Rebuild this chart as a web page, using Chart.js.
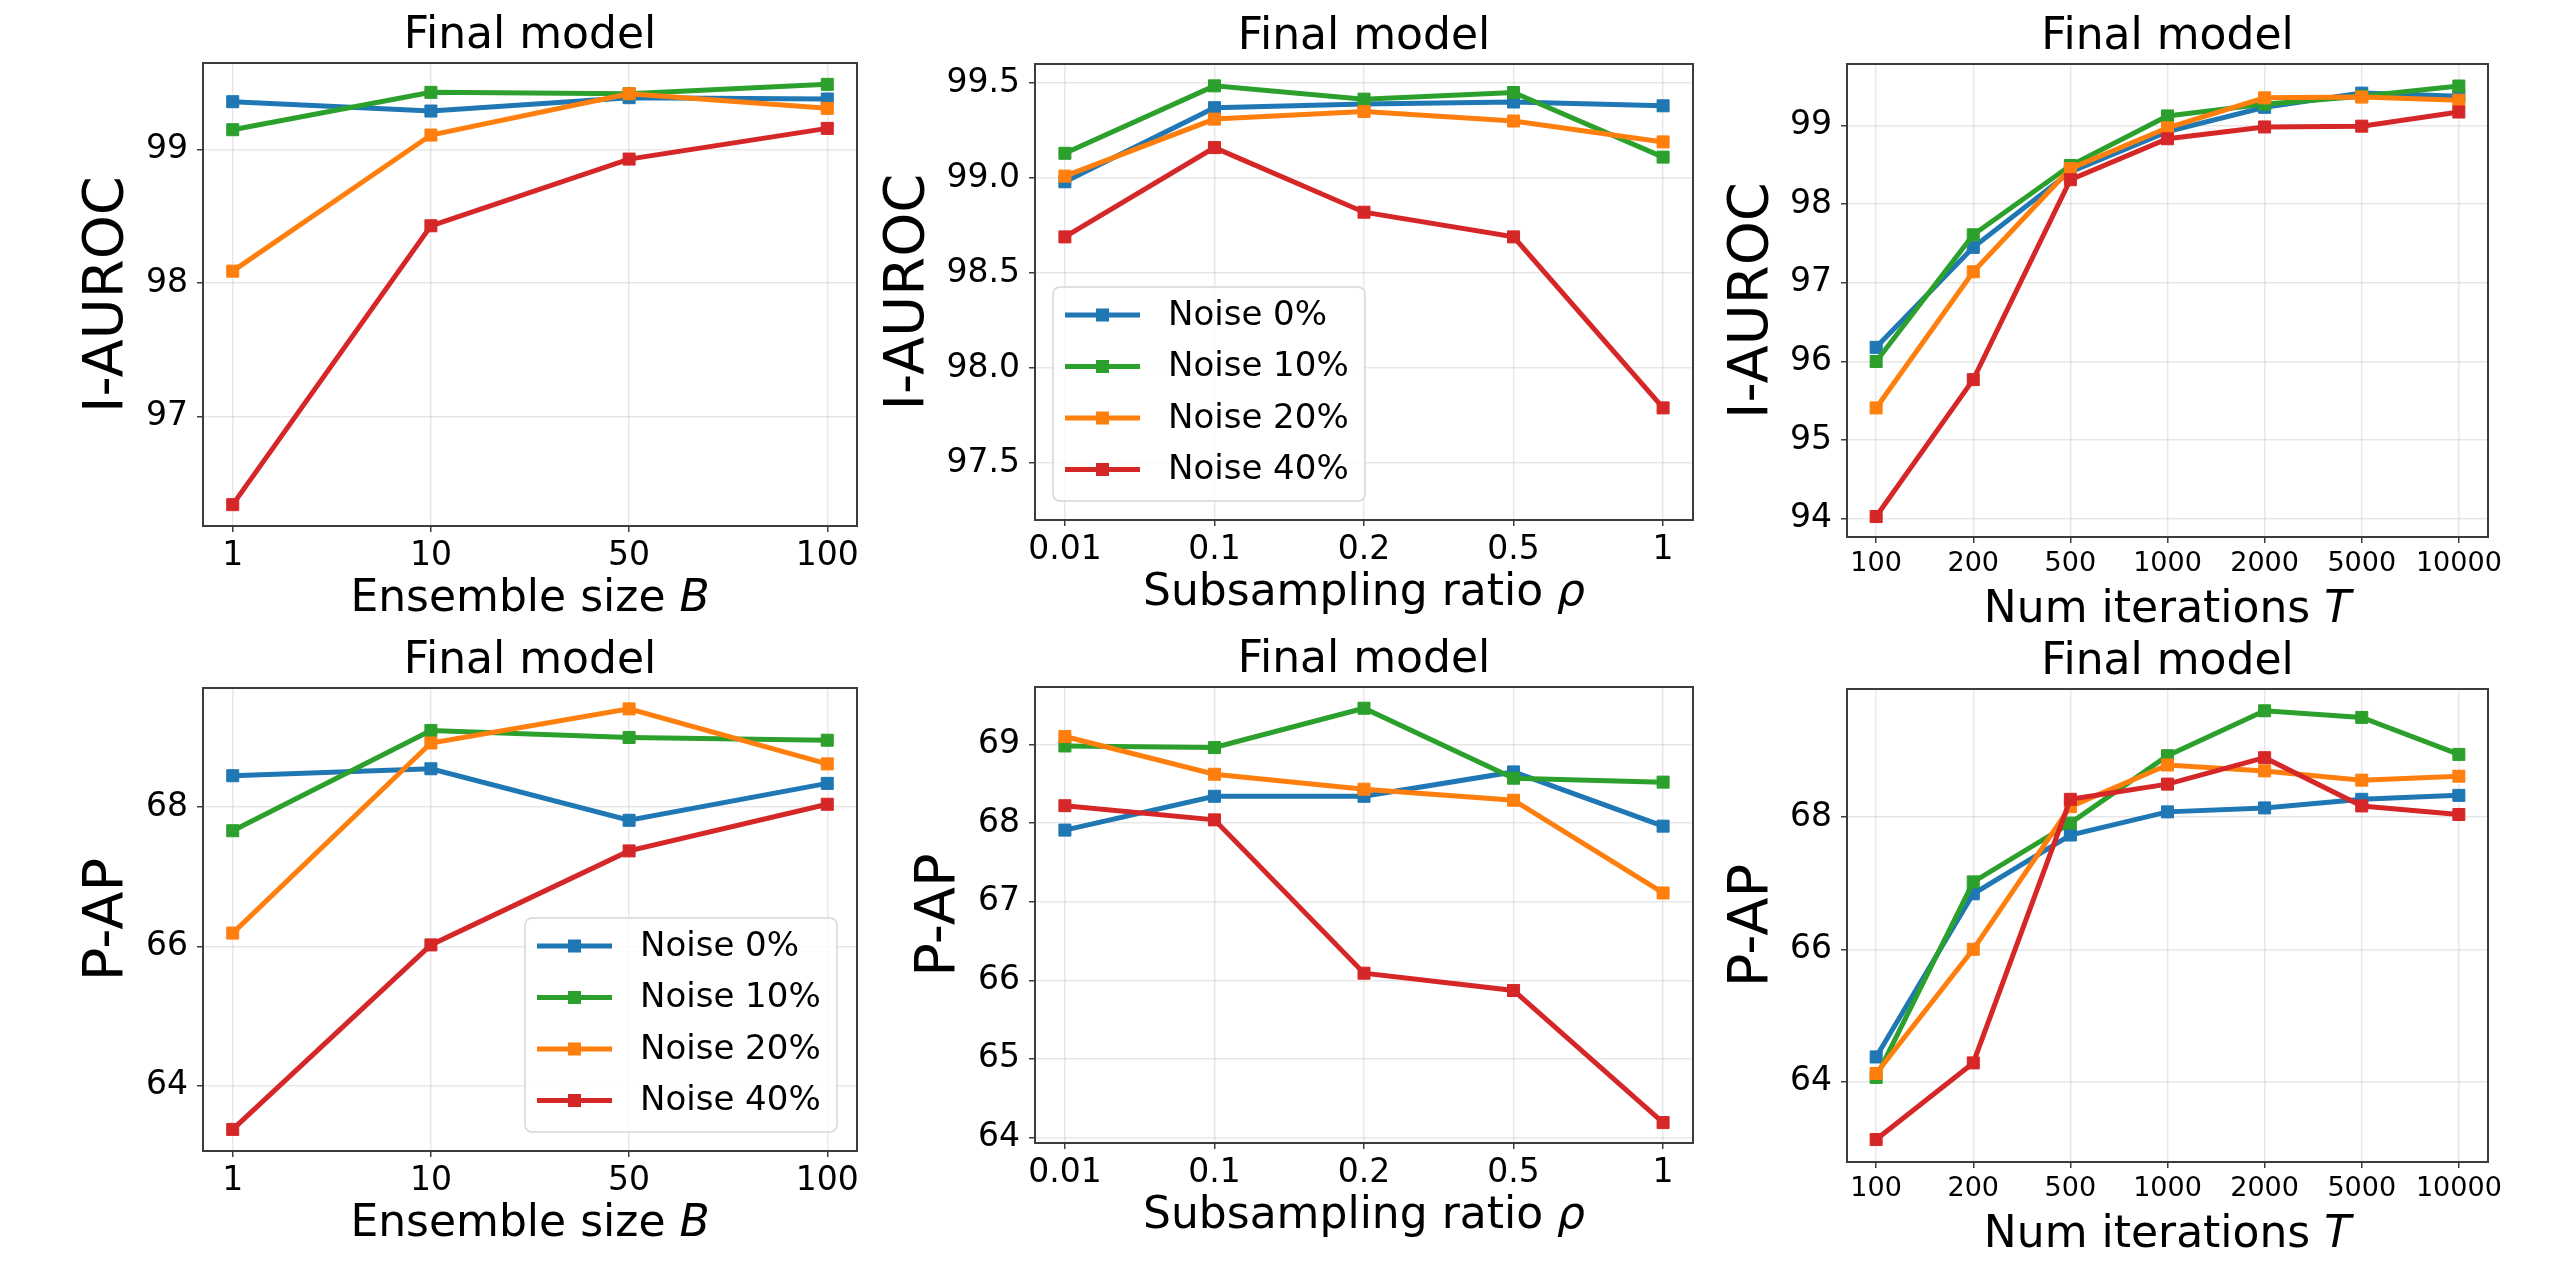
<!DOCTYPE html>
<html><head><meta charset="utf-8">
<script src="https://cdn.jsdelivr.net/npm/chart.js@4.4.0/dist/chart.umd.min.js"></script>
<style>
html,body{margin:0;padding:0;background:#fff;}
body{width:2554px;height:1261px;position:relative;overflow:hidden;}
canvas{position:absolute;}
</style></head><body>
<script>
// ---------- data ----------
const seriesNames = ['Noise 0%', 'Noise 10%', 'Noise 20%', 'Noise 40%'];
const seriesColors = ['#1f77b4', '#2ca02c', '#ff7f0e', '#d62728'];

const ensembleSizes = ['1', '10', '50', '100'];
const subsamplingRatios = ['0.01', '0.1', '0.2', '0.5', '1'];
const numIterations = ['100', '200', '500', '1000', '2000', '5000', '10000'];

// I-AUROC vs ensemble size
const aurocEnsNoise0  = [99.36, 99.29, 99.39, 99.38];
const aurocEnsNoise10 = [99.15, 99.43, 99.42, 99.49];
const aurocEnsNoise20 = [98.09, 99.11, 99.42, 99.31];
const aurocEnsNoise40 = [96.34, 98.43, 98.93, 99.16];
// I-AUROC vs subsampling ratio
const aurocSubNoise0  = [98.98, 99.37, 99.39, 99.40, 99.38];
const aurocSubNoise10 = [99.13, 99.485, 99.415, 99.45, 99.11];
const aurocSubNoise20 = [99.01, 99.31, 99.35, 99.30, 99.19];
const aurocSubNoise40 = [98.69, 99.16, 98.82, 98.69, 97.79];
// I-AUROC vs iterations
const aurocIterNoise0  = [96.18, 97.45, 98.41, 98.92, 99.23, 99.41, 99.37];
const aurocIterNoise10 = [96.00, 97.61, 98.49, 99.12, 99.27, 99.37, 99.50];
const aurocIterNoise20 = [95.41, 97.14, 98.45, 98.97, 99.35, 99.36, 99.32];
const aurocIterNoise40 = [94.03, 95.77, 98.31, 98.83, 98.98, 98.99, 99.17];
// P-AP vs ensemble size
const papEnsNoise0  = [68.45, 68.55, 67.81, 68.34];
const papEnsNoise10 = [67.66, 69.10, 69.00, 68.96];
const papEnsNoise20 = [66.19, 68.92, 69.41, 68.62];
const papEnsNoise40 = [63.37, 66.02, 67.37, 68.04];
// P-AP vs subsampling ratio
const papSubNoise0  = [67.91, 68.34, 68.34, 68.65, 67.96];
const papSubNoise10 = [68.98, 68.96, 69.46, 68.57, 68.52];
const papSubNoise20 = [69.10, 68.62, 68.43, 68.29, 67.11];
const papSubNoise40 = [68.22, 68.04, 66.09, 65.87, 64.19];
// P-AP vs iterations
const papIterNoise0  = [64.37, 66.84, 67.73, 68.08, 68.14, 68.27, 68.33];
const papIterNoise10 = [64.06, 67.02, 67.91, 68.93, 69.61, 69.51, 68.95];
const papIterNoise20 = [64.12, 66.00, 68.16, 68.79, 68.70, 68.56, 68.62];
const papIterNoise40 = [63.12, 64.28, 68.27, 68.50, 68.90, 68.17, 68.04];

// tick labels for the y axes
const aurocEnsTicks  = [97, 98, 99];
const aurocSubTicks  = [97.5, 98.0, 98.5, 99.0, 99.5];
const aurocIterTicks = [94, 95, 96, 97, 98, 99];
const papEnsTicks    = [64, 66, 68];
const papSubTicks    = [64, 65, 66, 67, 68, 69];
const papIterTicks   = [64, 66, 68];

// ---------- layout / style ----------
const FONT = "'DejaVu Sans', sans-serif";
Chart.defaults.font.family = FONT;
Chart.defaults.color = '#000';

const panels = [
  {box:{L:203,R:857,T:63,B:526}, cats:ensembleSizes, series:[aurocEnsNoise0,aurocEnsNoise10,aurocEnsNoise20,aurocEnsNoise40],
   yMin:96.18, yMax:99.65, yTicks:aurocEnsTicks, dec:0, yLabel:'I-AUROC', yLabelX:107, xMain:'Ensemble size ', xVar:'B', xTick:33},
  {box:{L:1035,R:1693,T:64,B:520}, cats:subsamplingRatios, series:[aurocSubNoise0,aurocSubNoise10,aurocSubNoise20,aurocSubNoise40],
   yMin:97.2, yMax:99.6, yTicks:aurocSubTicks, dec:1, yLabel:'I-AUROC', yLabelX:908, xMain:'Subsampling ratio ', xVar:'\u03C1', xTick:33,
   legend:{corner:'bl', dx:18, dy:19}},
  {box:{L:1847,R:2488,T:64,B:537}, cats:numIterations, series:[aurocIterNoise0,aurocIterNoise10,aurocIterNoise20,aurocIterNoise40],
   yMin:93.77, yMax:99.78, yTicks:aurocIterTicks, dec:0, yLabel:'I-AUROC', yLabelX:1752, xMain:'Num iterations ', xVar:'T', xTick:27},
  {box:{L:203,R:857,T:688,B:1151}, cats:ensembleSizes, series:[papEnsNoise0,papEnsNoise10,papEnsNoise20,papEnsNoise40],
   yMin:63.06, yMax:69.71, yTicks:papEnsTicks, dec:0, yLabel:'P-AP', yLabelX:107, xMain:'Ensemble size ', xVar:'B', xTick:33,
   legend:{corner:'br', dx:20, dy:19}},
  {box:{L:1035,R:1693,T:687,B:1143}, cats:subsamplingRatios, series:[papSubNoise0,papSubNoise10,papSubNoise20,papSubNoise40],
   yMin:63.93, yMax:69.73, yTicks:papSubTicks, dec:0, yLabel:'P-AP', yLabelX:939, xMain:'Subsampling ratio ', xVar:'\u03C1', xTick:33},
  {box:{L:1847,R:2488,T:689,B:1162}, cats:numIterations, series:[papIterNoise0,papIterNoise10,papIterNoise20,papIterNoise40],
   yMin:62.78, yMax:69.94, yTicks:papIterTicks, dec:0, yLabel:'P-AP', yLabelX:1752, xMain:'Num iterations ', xVar:'T', xTick:27},
];

const Y_AXIS_W = 200, TOP_PAD = 63, X_AXIS_H = 110, RIGHT_PAD = 30;
const GRID = 'rgba(0,0,0,0.09)';
const SPINE = '#3c3c3c';

function decorPlugin(p, canvasLeft) {
  return {
    id: 'decor',
    afterDraw(chart) {
      const ctx = chart.ctx, a = chart.chartArea;
      ctx.save();
      // spines
      ctx.strokeStyle = SPINE; ctx.lineWidth = 2;
      ctx.strokeRect(a.left, a.top, a.right - a.left, a.bottom - a.top);
      // title
      ctx.fillStyle = '#000';
      ctx.textAlign = 'center'; ctx.textBaseline = 'middle';
      ctx.font = '44px ' + FONT;
      ctx.fillText('Final model', (a.left + a.right) / 2, a.top - 26);
      // x label (normal + italic variable)
      const nf = '44px ' + FONT, itf = 'italic 44px ' + FONT;
      ctx.font = nf; const w1 = ctx.measureText(p.xMain).width;
      ctx.font = itf; const w2 = ctx.measureText(p.xVar).width;
      let x0 = (a.left + a.right) / 2 - (w1 + w2) / 2;
      ctx.textAlign = 'left';
      ctx.font = nf; ctx.fillText(p.xMain, x0, a.bottom + 74);
      ctx.font = itf; ctx.fillText(p.xVar, x0 + w1, a.bottom + 74);
      // y label
      ctx.save();
      ctx.translate(p.yLabelX - canvasLeft, (a.top + a.bottom) / 2);
      ctx.rotate(-Math.PI / 2);
      ctx.textAlign = 'center'; ctx.textBaseline = 'middle';
      ctx.font = '56px ' + FONT;
      ctx.fillText(p.yLabel, 0, 0);
      ctx.restore();
      // legend
      if (p.legend) {
        const W = 312, H = 214;
        const lx = p.legend.corner === 'bl' ? a.left + p.legend.dx : a.right - p.legend.dx - W;
        const ly = a.bottom - p.legend.dy - H;
        ctx.beginPath();
        if (ctx.roundRect) ctx.roundRect(lx, ly, W, H, 7); else ctx.rect(lx, ly, W, H);
        ctx.fillStyle = 'rgba(255,255,255,0.8)'; ctx.fill();
        ctx.strokeStyle = '#d6d6d6'; ctx.lineWidth = 1.5; ctx.stroke();
        chart.data.datasets.forEach((ds, i) => {
          const cy = ly + 28 + i * 51.5;
          ctx.strokeStyle = ds.borderColor; ctx.lineWidth = 4.8; ctx.lineCap = 'butt';
          ctx.beginPath(); ctx.moveTo(lx + 12, cy); ctx.lineTo(lx + 87, cy); ctx.stroke();
          ctx.fillStyle = ds.borderColor; ctx.fillRect(lx + 49.5 - 6.5, cy - 6.5, 13, 13);
          ctx.fillStyle = '#000'; ctx.font = '34px ' + FONT;
          ctx.textAlign = 'left'; ctx.textBaseline = 'middle';
          ctx.fillText(ds.label, lx + 115, cy + 1);
        });
      }
      ctx.restore();
    }
  };
}

panels.forEach((p, k) => {
  const cv = document.createElement('canvas');
  const left = p.box.L - Y_AXIS_W, top = p.box.T - TOP_PAD;
  const W = (p.box.R - p.box.L) + Y_AXIS_W + RIGHT_PAD;
  const H = (p.box.B - p.box.T) + TOP_PAD + X_AXIS_H;
  cv.width = W; cv.height = H;
  cv.style.left = left + 'px'; cv.style.top = top + 'px';
  cv.style.width = W + 'px'; cv.style.height = H + 'px';
  document.body.appendChild(cv);
  const n = p.cats.length, m = 0.05 * (n - 1);
  new Chart(cv, {
    type: 'line',
    data: {
      datasets: p.series.map((vals, i) => ({
        label: seriesNames[i],
        data: vals.map((v, j) => ({x: j, y: v})),
        borderColor: seriesColors[i], backgroundColor: seriesColors[i],
        pointBackgroundColor: seriesColors[i], pointBorderColor: seriesColors[i],
        borderWidth: 5, pointStyle: 'rect', pointRadius: 8.5, pointHoverRadius: 8.5,
        pointBorderWidth: 1, tension: 0, order: 4 - i
      }))
    },
    options: {
      responsive: false, animation: false, devicePixelRatio: 1,
      layout: {padding: {left: 0, right: RIGHT_PAD, top: TOP_PAD, bottom: 0}},
      plugins: {legend: {display: false}, title: {display: false}, tooltip: {enabled: false}},
      events: [],
      scales: {
        x: {
          type: 'linear', min: -m, max: n - 1 + m,
          afterBuildTicks: s => { s.ticks = p.cats.map((_, j) => ({value: j})); },
          afterFit: s => { s.height = X_AXIS_H; },
          ticks: {callback: v => p.cats[v], font: {size: p.xTick}, color: '#000', padding: 5, maxRotation: 0, autoSkip: false},
          grid: {color: GRID, lineWidth: 1.5, tickLength: 6, tickColor: SPINE, tickWidth: 1.5},
          border: {display: false}
        },
        y: {
          min: p.yMin, max: p.yMax,
          afterBuildTicks: s => { s.ticks = p.yTicks.map(v => ({value: v})); },
          afterFit: s => { s.width = Y_AXIS_W; },
          ticks: {callback: v => Number(v).toFixed(p.dec), font: {size: 33}, color: '#000', padding: 9},
          grid: {color: GRID, lineWidth: 1.5, tickLength: 6, tickColor: SPINE, tickWidth: 1.5},
          border: {display: false}
        }
      }
    },
    plugins: [decorPlugin(p, left)]
  });
});
</script>
</body></html>
